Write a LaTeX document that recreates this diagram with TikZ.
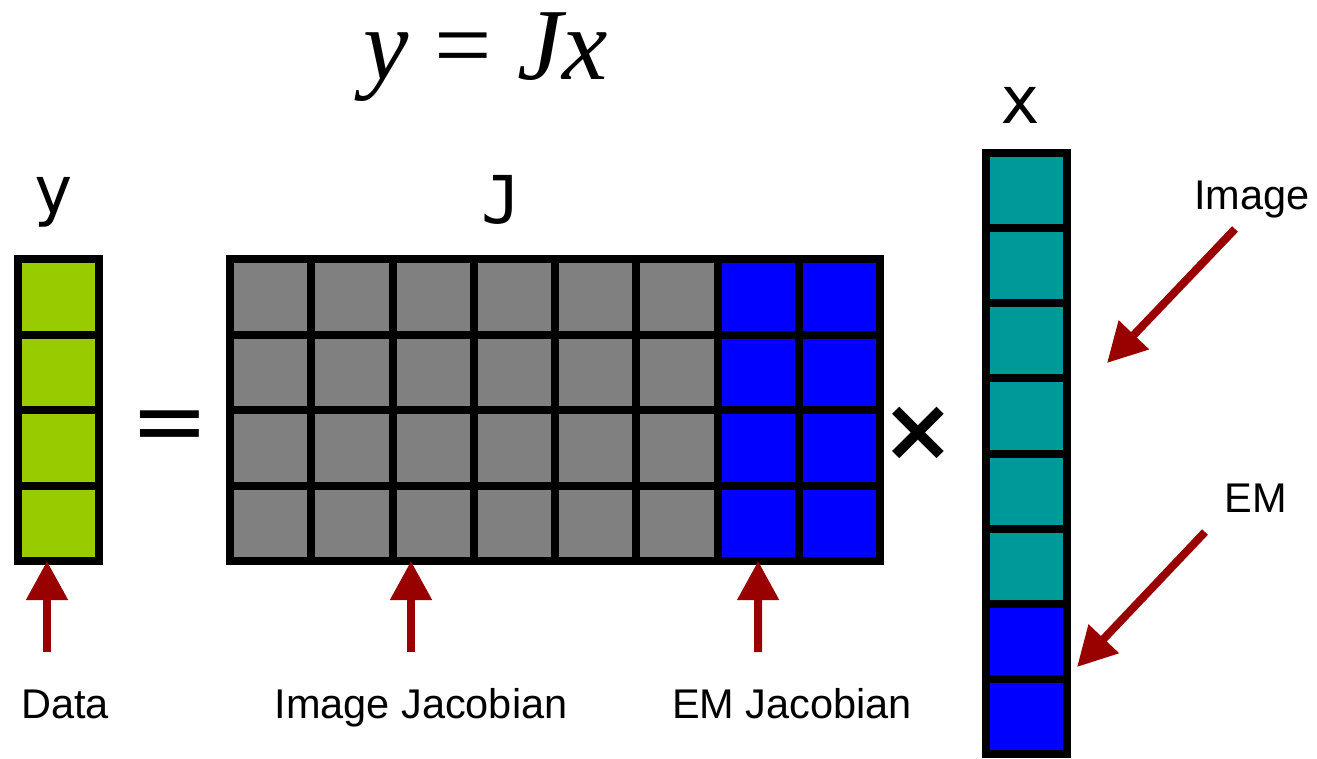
\documentclass[tikz,border=0pt]{standalone}
\usepackage{fontspec}
\setmainfont{Liberation Sans}
\newfontfamily\monof{DejaVu Sans Mono}
\newfontfamily\serf{Liberation Serif}
\newfontfamily\dvs{DejaVu Sans}
\usetikzlibrary{arrows.meta}
\definecolor{ygreen}{HTML}{99CC00}
\definecolor{jgray}{HTML}{808080}
\definecolor{emblue}{HTML}{0000FF}
\definecolor{xteal}{HTML}{009999}
\definecolor{arrowred}{HTML}{990000}
\begin{document}
\begin{tikzpicture}[x=1pt,y=-1pt,
  cellbox/.style={draw=black, line width=8pt, inner sep=0pt, outer sep=0pt,
    minimum width=81.25pt, minimum height=75.5pt},
  xcell/.style={cellbox, minimum height=75.125pt},
  lbl/.style={font=\fontsize{41.5}{48}\selectfont, anchor=base, inner sep=0pt},
  mlbl/.style={font=\monof\fontsize{66}{78}\selectfont, anchor=base, inner sep=0pt},
  redarrow/.style={draw=arrowred, line width=8pt, -{Triangle[length=39pt,width=40pt]}}]
\useasboundingbox (0,0) rectangle (1317,758);

% title
\node[font=\serf\fontsize{102}{120}\selectfont, anchor=base, inner sep=0pt] (title) at (486,79) {\textit{y} = \textit{Jx}};

% y vector
\foreach \r in {1,...,4} {
  \node[cellbox, fill=ygreen] (y\r) at (58.5,{259+(\r-0.5)*75.5}) {};
}
% J matrix
\foreach \r in {1,...,4} {
  \foreach \c in {1,...,6} {
    \node[cellbox, fill=jgray] (J\r\c) at ({230+(\c-0.5)*81.25},{259+(\r-0.5)*75.5}) {};
  }
  \foreach \c in {7,8} {
    \node[cellbox, fill=emblue] (J\r\c) at ({230+(\c-0.5)*81.25},{259+(\r-0.5)*75.5}) {};
  }
}
% x vector
\foreach \r in {1,...,6} {
  \node[xcell, fill=xteal] (x\r) at (1026.5,{153+(\r-0.5)*75.125}) {};
}
\foreach \r in {7,8} {
  \node[xcell, fill=emblue] (x\r) at (1026.5,{153+(\r-0.5)*75.125}) {};
}

% operators
\node[font=\dvs\fontsize{94}{110}\selectfont, inner sep=0pt] (eq) at (170,432.5) {=};
\node[font=\dvs\bfseries\fontsize{88}{110}\selectfont, inner sep=0pt] (times) at (918,434) {×};

% vector labels
\node[mlbl] (ylbl) at (53,213) {y};
\node[mlbl] (Jlbl) at (501,223) {J};
\node[mlbl] (xlbl) at (1020,123) {x};

% text labels
\node[lbl] (datalbl) at (65,718) {Data};
\node[lbl] (ijlbl) at (421,718) {Image Jacobian};
\node[lbl] (emjlbl) at (792,718) {EM Jacobian};
\node[lbl] (imglbl) at (1252,209) {Image};
\node[lbl] (emlbl) at (1256,512) {EM};

% arrows
\coordinate (dataTail) at (47,652);
\coordinate (ijTail) at (411,652);
\coordinate (emjTail) at (758.1,652);
\coordinate (imgTail) at (1235,229);
\coordinate (imgTip) at (1107,363);
\coordinate (emTail) at (1205,532);
\coordinate (emTip) at (1077,667);
\draw[redarrow] (dataTail) -- (dataTail |- y4.south);
\draw[redarrow] (ijTail) -- (ijTail |- J43.south);
\draw[redarrow] (emjTail) -- (J47.south);
\draw[redarrow] (imgTail) -- (imgTip);
\draw[redarrow] (emTail) -- (emTip);
\end{tikzpicture}
\end{document}
